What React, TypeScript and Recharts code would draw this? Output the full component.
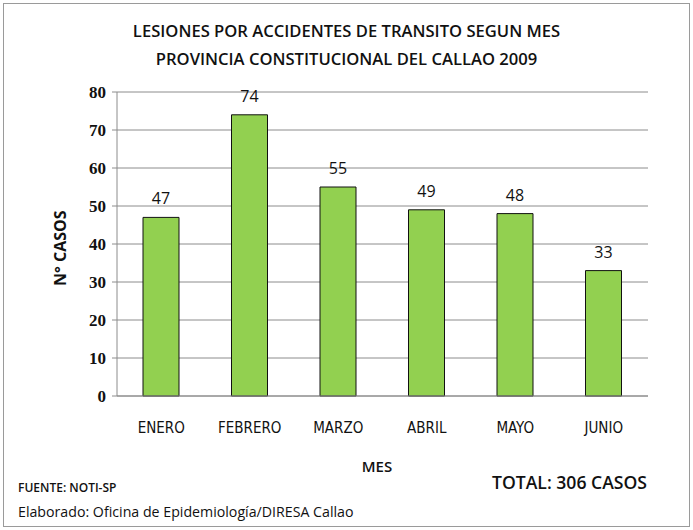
import React from "react";
import { BarChart, Bar, XAxis, YAxis, CartesianGrid, LabelList } from "recharts";

const months = ["ENERO", "FEBRERO", "MARZO", "ABRIL", "MAYO", "JUNIO"];
const cases = [47, 74, 55, 49, 48, 33];
const yTicks = [0, 10, 20, 30, 40, 50, 60, 70, 80];

const data = months.map((m, i) => ({ mes: m, casos: cases[i] }));

const sans = "'Open Sans', 'Noto Sans', sans-serif";
const serif = "'Times New Roman', 'Liberation Serif', Tinos, 'DejaVu Serif', serif";

const YTick = (props: any) => {
  const { x, y, payload } = props;
  return (
    <text x={x - 4} y={y} dy={6} textAnchor="end" fontFamily={serif} fontWeight="bold" fontSize={17} fill="#111">
      {payload.value}
    </text>
  );
};

export default function App() {
  return (
    <div style={{ position: "absolute", left: 0, top: 0, width: 693, height: 530, background: "#fff", fontFamily: sans }}>
      <div style={{ position: "absolute", left: 3, top: 3, width: 685, height: 522, border: "1px solid #9a9a9a" }} />
      <div style={{ position: "absolute", left: 0, top: 17, width: 693, textAlign: "center", fontSize: 16.6, fontWeight: 600, lineHeight: "28px", color: "#111", fontFamily: sans }}>
        LESIONES POR ACCIDENTES DE TRANSITO SEGUN MES
        <br />
        PROVINCIA CONSTITUCIONAL DEL CALLAO 2009
      </div>
      <div style={{ position: "absolute", left: 0, top: 0 }}>
        <BarChart width={693} height={530} data={data} margin={{ top: 92, right: 45, bottom: 104, left: 77 }}>
          <CartesianGrid vertical={false} stroke="#8c8c8c" strokeWidth={1} />
          <XAxis
            dataKey="mes"
            stroke="#8c8c8c"
            tickLine={false}
            height={30}
            tick={{ fill: "#111", fontSize: 15, fontFamily: "'DejaVu Sans Condensed', 'Liberation Sans Narrow', sans-serif" }}
            tickMargin={20}
          />
          <YAxis
            domain={[0, 80]}
            ticks={yTicks}
            interval={0}
            width={40}
            stroke="#8c8c8c"
            tickSize={5}
            tick={<YTick />}
            label={{ value: "N° CASOS", angle: -90, position: "insideLeft", dx: -22, dy: 42, style: { fill: "#111", fontSize: 16, fontWeight: "bold", fontFamily: sans } }}
          />
          <Bar dataKey="casos" fill="#92D050" stroke="#111" strokeWidth={1} barSize={36} isAnimationActive={false}>
            <LabelList dataKey="casos" position="top" offset={13} style={{ fill: "#111", fontSize: 16, fontFamily: sans }} />
          </Bar>
        </BarChart>
      </div>
      <div style={{ position: "absolute", left: 340, top: 456, width: 74, textAlign: "center", fontSize: 15, fontWeight: 600, color: "#111" }}>MES</div>
      <div style={{ position: "absolute", left: 18, top: 479, fontSize: 12, fontWeight: 600, color: "#111" }}>FUENTE: NOTI-SP</div>
      <div style={{ position: "absolute", left: 18, top: 502, fontSize: 14.2, color: "#111" }}>Elaborado: Oficina de Epidemiología/DIRESA Callao</div>
      <div style={{ position: "absolute", left: 492, top: 470, fontSize: 17.6, fontWeight: 600, color: "#111" }}>TOTAL: 306 CASOS</div>
    </div>
  );
}
